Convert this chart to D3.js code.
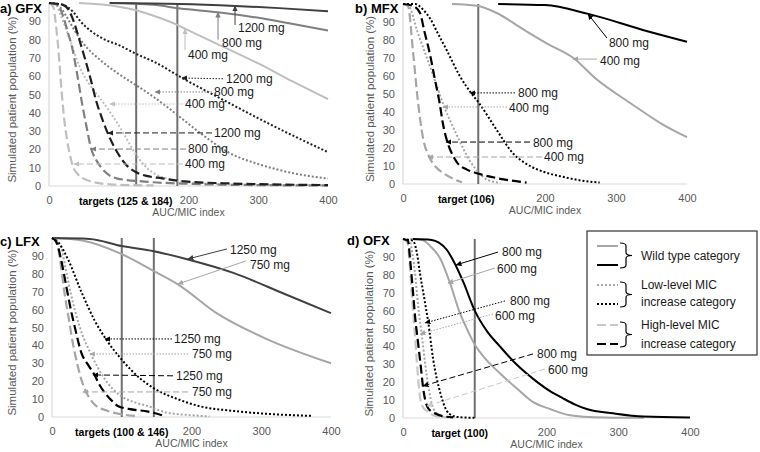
<!DOCTYPE html>
<html><head><meta charset="utf-8">
<script src="https://cdn.jsdelivr.net/npm/d3@7"></script>
<style>
html,body{margin:0;padding:0;background:#fff;}
svg{display:block;font-family:"Liberation Sans",Arial,sans-serif;}
</style></head><body>
<svg id="chart" width="760" height="452"></svg>
<script>
// ---------------- DATA ----------------
const xTicks = [0, 200, 300, 400];
const yTicks = [0, 10, 20, 30, 40, 50, 60, 70, 80, 90];
const panelTitles = ["a) GFX", "b) MFX", "c) LFX", "d) OFX"];
const targetValues = [[125, 184], [106], [100, 146], [100]];
const targetLabels = ["targets (125 & 184)", "target (106)", "targets (100 & 146)", "target (100)"];
const targetLabelAt = [110, 89, 100, 79];
const xTitle = "AUC/MIC index";
const yTitle = "Simulated patient population (%)";
const doses = [["400 mg", "800 mg", "1200 mg"], ["400 mg", "800 mg"], ["750 mg", "1250 mg"], ["600 mg", "800 mg"]];

// a) GFX
const gfxWT400 = [[43,100],[100,98],[125,96],[150,93],[184,88],[200,85],[250,76],[300,67],[350,57],[400,47.5]];
const gfxWT800 = [[87,100],[150,99],[188,97],[242,95],[307,91.5],[350,88.5],[400,85]];
const gfxWT1200 = [[87,100],[188,99.5],[267,98.4],[330,97.2],[400,95.5]];
const gfxLow400 = [[0,100],[10,99],[16,94],[30,80],[44,65],[59,55],[75,47],[90,39],[105,30],[120,20],[135,12],[150,7],[170,4],[200,2],[250,1],[300,0.6],[400,0.3]];
const gfxLow800 = [[0,100],[15,98],[26,92],[35,86],[49,78],[73,69],[97,62],[121,56],[145,50],[170,43],[190,37],[220,28],[259,18],[300,12],[350,7],[400,4]];
const gfxLow1200 = [[0,100],[20,99],[35,95],[45,90],[59,85],[80,80],[100,77],[126,72],[150,68],[191,59],[250,47],[300,37],[350,27.5],[400,18.5]];
const gfxHigh400 = [[0,100],[6,98],[10,88],[14,72],[18,52],[22,36],[26,25],[30,17],[34,11],[40,7],[50,4],[63,2.2],[92,0.8],[150,0.3]];
const gfxHigh800 = [[0,100],[12,99],[20,93],[27,84],[33,76],[40,62],[47,46],[54,32],[60,21],[68,14],[76,9.5],[97,4.2],[137,2.4],[200,1.2],[300,0.5],[400,0.3]];
const gfxHigh1200 = [[0,100],[20,99],[30,95],[38,87],[45,78],[52,69],[60,58],[68,46],[76,37],[84,29],[97,19],[112,11],[125,7.5],[140,5.5],[162,4.2],[195,2.5],[250,1.5],[300,1],[400,0.5]];

// b) MFX
const mfxWT400 = [[69,100],[104,99],[132,95],[169,86],[203,78],[240,70],[273,58],[320,45],[366,33],[400,26]];
const mfxWT800 = [[134,100],[200,99.4],[261,94.5],[343,85],[400,79]];
const mfxLow400 = [[0,100],[8,99],[20,85],[30,74],[42,61],[57,44],[76,27],[94,13],[110,5],[118,2.5],[137,0.6]];
const mfxLow800 = [[0,100],[17,100],[28,97],[38,92],[50,83],[62,74],[80,60],[97,50],[107,45],[132,30],[155,17],[179,10],[200,6.5],[225,4],[250,2],[277,0.8]];
const mfxHigh400 = [[0,100],[7,99],[14,74],[21,46],[28,26],[37,15],[45,10],[57,6],[70,3],[83,1]];
const mfxHigh800 = [[0,100],[14,99],[24,95],[30,85],[38,72],[45,58],[52,44],[56,34],[62,24],[70,16],[76,12],[90,8],[104,6],[132,3.3],[174,0.8]];

// c) LFX
const lfxWT750 = [[0,100],[45,98.5],[100,91],[146,81.5],[181,74],[236,58],[308,43.5],[400,30]];
const lfxWT1250 = [[0,100],[54,99.5],[100,95.5],[146,92.6],[195,88],[260,80.5],[332,69],[400,58]];
const lfxLow750 = [[0,100],[6,99],[13,95],[20,82],[27,69],[40,50],[56,35],[76,21],[99,11.7],[120,8],[138,6],[164,2.5],[200,1],[226,0.3]];
const lfxLow1250 = [[0,100],[10,97],[23,88],[42,70],[61,54],[80,42],[100,32],[128,21],[148,15.6],[180,10],[212,6],[260,3.4],[320,1.5],[374,0.6]];
const lfxHigh750 = [[0,100],[4,99],[8.6,95],[13,84],[18,69],[24,55],[30,41],[36,30],[42,21],[49,14],[61,7],[80,3.4],[100,1.5],[119,0.6]];
const lfxHigh1250 = [[0,100],[6,98],[13,88],[20,74],[27,60],[34,48],[42,36],[52,29],[61,23.5],[68,18],[76,13.4],[86,9],[95,6],[110,4.5],[138,3],[162,0.5]];

// d) OFX
const ofxWT600 = [[10,100],[27,99.5],[38,96],[52,89],[65,76],[79,59],[90,49],[100,41],[115,33],[135,25],[160,16],[181,9],[205,5],[233,1.5],[260,0.5],[293,0.2],[336,0.1]];
const ofxWT800 = [[14,100],[40,99.5],[50,98],[61,94],[70,88],[84,76],[100,60],[117,48.5],[135,40],[158,30],[181,22],[205,15],[223,11],[240,7.5],[256,5],[293,2.6],[335,0.8],[400,0.3]];
const ofxLow600 = [[0,100],[10,98],[13,92],[17,80],[21,63],[26,47],[33,24],[40,8],[46,3],[52,1],[70,0.2]];
const ofxLow800 = [[0,100],[14,99],[19,93],[24,80],[30,66],[35,54],[42,33],[52,14],[61,4],[68,1.5],[75,0.6],[100,0.1]];
const ofxHigh600 = [[0,100],[6,98],[9,88],[12,70],[16,50],[19,33],[22,18],[24,11],[28,6],[33,4],[40,2],[47,1],[60,0.4]];
const ofxHigh800 = [[0,100],[7,99],[10,88],[14,70],[17,56],[21,42],[25,28],[28,17],[31,10],[35,5.5],[45,2.5],[56,1],[70,0.4]];

// annotation anchors in data units: [text, style, dose index, tip, tail, label]
const gfxNotes = [
  ["1200 mg","solid",2,[266.7,98.4],[266.7,88],[271,86.5]],
  ["800 mg","solid",1,[242.3,95],[242.3,80],[248,78.3]],
  ["400 mg","solid",0,[195,85.8],[195,74.3],[199.3,71.6]],
  ["1200 mg","dotted",2,[190.7,59],[249.5,58.6],[253.8,58.6]],
  ["800 mg","dotted",1,[152,51.4],[233.7,51.4],[236.6,51.4]],
  ["400 mg","dotted",0,[87.5,44.8],[192,44.8],[195,44.8]],
  ["1200 mg","dashed",2,[84.6,29],[233.7,29],[236.6,29]],
  ["800 mg","dashed",1,[60.2,20.2],[196.4,20.2],[199.3,20.2]],
  ["400 mg","dashed",0,[35.8,12],[192,12],[195,12]]
];
const mfxNotes = [
  ["800 mg","solid",1,[260.6,94.4],[287.3,81.1],[290,78.3]],
  ["400 mg","solid",0,[239.4,69.4],[273.2,69.4],[277.5,68.6]],
  ["800 mg","dotted",1,[94.4,50.6],[157.7,50.6],[162,50.6]],
  ["400 mg","dotted",0,[56.3,42.8],[146.5,42.8],[149.3,42.5]],
  ["800 mg","dashed",1,[60.6,23.3],[178.9,23.3],[183,23]],
  ["400 mg","dashed",0,[35.2,15],[195.8,15],[198.6,15]]
];
const lfxNotes = [
  ["1250 mg","solid",1,[195,88.3],[250.9,93.9],[255.2,93.3]],
  ["750 mg","solid",0,[180.6,74.3],[278.1,87.2],[283.9,84.9]],
  ["1250 mg","dotted",1,[76,43.6],[172,43.6],[175,43.6]],
  ["750 mg","dotted",0,[54.5,35.2],[195,35.2],[200.7,35.2]],
  ["1250 mg","dashed",1,[58.8,23.5],[173.5,23],[177.8,23]],
  ["750 mg","dashed",0,[44.4,14],[195,14],[200.7,14]]
];
const ofxNotes = [
  ["800 mg","solid",1,[73.9,85.5],[132.4,92.7],[138,92.7]],
  ["600 mg","solid",0,[62.7,75.4],[128.2,83.8],[131,83.2]],
  ["800 mg","dotted",1,[30.7,53.1],[142.2,65.4],[149.1,65.4]],
  ["600 mg","dotted",0,[23.7,46.9],[125.4,58.1],[128.2,57]],
  ["800 mg","dashed",1,[27.9,17.9],[181.2,35.8],[186.8,35.8]],
  ["600 mg","dashed",0,[33.4,6.7],[197.9,27.4],[202.1,26.8]]
];

const legendLabels = [["Wild type category"], ["Low-level MIC", "increase category"], ["High-level MIC", "increase category"]];
const legendStyles = ["solid", "dotted", "dashed"];

// ---------------- STYLE / LAYOUT ----------------
const FONT = "Liberation Sans, Arial, sans-serif";
const styleDefs = {
  solid: {width: 2, dash: null, noteDash: null},
  dotted: {width: 2, dash: "2,2", noteDash: "1.5,1.5"},
  dashed: {width: 2.2, dash: "9,4", noteDash: "6,3"}
};
const panelColors = [
  {solid:["#bfbfbf","#7f7f7f","#404040"], dotted:["#bfbfbf","#7f7f7f","#1f1f1f"], dashed:["#bfbfbf","#7f7f7f","#1f1f1f"]},
  {solid:["#a6a6a6","#000000"], dotted:["#a6a6a6","#000000"], dashed:["#a6a6a6","#000000"]},
  {solid:["#a6a6a6","#404040"], dotted:["#a6a6a6","#000000"], dashed:["#a6a6a6","#000000"]},
  {solid:["#a6a6a6","#000000"], dotted:["#a6a6a6","#000000"], dashed:["#c8c8c8","#000000"]}
];
const panelSeries = [
  {solid:[gfxWT400,gfxWT800,gfxWT1200], dotted:[gfxLow400,gfxLow800,gfxLow1200], dashed:[gfxHigh400,gfxHigh800,gfxHigh1200]},
  {solid:[mfxWT400,mfxWT800], dotted:[mfxLow400,mfxLow800], dashed:[mfxHigh400,mfxHigh800]},
  {solid:[lfxWT750,lfxWT1250], dotted:[lfxLow750,lfxLow1250], dashed:[lfxHigh750,lfxHigh1250]},
  {solid:[ofxWT600,ofxWT800], dotted:[ofxLow600,ofxLow800], dashed:[ofxHigh600,ofxHigh800]}
];
const panelNotes = [gfxNotes, mfxNotes, lfxNotes, ofxNotes];
const layout = [
  {left:49, right:328, top:3, bottom:186, titleX:0, titleY:8, yTitleX:12},
  {left:403, right:687, top:4, bottom:184, titleX:355, titleY:8, yTitleX:370},
  {left:52, right:331, top:238, bottom:417, titleX:0, titleY:241, yTitleX:12},
  {left:403, right:690, top:239, bottom:418, titleX:347, titleY:240, yTitleX:369}
];

const svg = d3.select("#chart");
const defs = svg.append("defs");
function marker(color) {
  const id = "arr" + color.replace("#", "");
  if (defs.select("#" + id).empty()) {
    defs.append("marker").attr("id", id).attr("viewBox", "0 0 10 10")
      .attr("refX", 9).attr("refY", 5).attr("markerWidth", 6).attr("markerHeight", 6)
      .attr("markerUnits", "userSpaceOnUse").attr("orient", "auto")
      .append("path").attr("d", "M0,0.5 L10,5 L0,9.5 Z").attr("fill", color);
  }
  return "url(#" + id + ")";
}

panelTitles.forEach((title, i) => {
  const L = layout[i];
  const x = d3.scaleLinear().domain([0, 400]).range([L.left, L.right]);
  const y = d3.scaleLinear().domain([0, 100]).range([L.bottom, L.top]);
  const g = svg.append("g");

  g.append("line").attr("x1", x(0)).attr("x2", x(400)).attr("y1", y(0)).attr("y2", y(0))
    .attr("stroke", "#d9d9d9").attr("stroke-width", 1.2);
  g.append("line").attr("x1", x(0)).attr("x2", x(0)).attr("y1", y(0)).attr("y2", y(100))
    .attr("stroke", "#d9d9d9").attr("stroke-width", 1.2);

  const ya = g.append("g").attr("transform", `translate(${x(0)},0)`)
    .call(d3.axisLeft(y).tickValues(yTicks).tickSize(0).tickPadding(8));
  ya.select(".domain").remove();
  ya.attr("font-family", FONT).attr("font-size", 11);
  ya.selectAll("text").attr("fill", "#595959");

  const xa = g.append("g").attr("transform", `translate(0,${y(0)})`)
    .call(d3.axisBottom(x).tickValues(xTicks).tickSize(0).tickPadding(10));
  xa.select(".domain").remove();
  xa.attr("font-family", FONT).attr("font-size", 11);
  xa.selectAll("text").attr("fill", "#595959");

  g.append("text").attr("x", x(targetLabelAt[i])).attr("y", y(0) + 15.5).attr("dy", "0.35em")
    .attr("text-anchor", "middle").attr("font-weight", "bold").attr("font-size", 10.5)
    .attr("fill", "#000").text(targetLabels[i]);
  g.append("text").attr("x", x(200)).attr("y", y(0) + 26).attr("dy", "0.35em")
    .attr("text-anchor", "middle").attr("font-size", 10.5).attr("fill", "#595959").text(xTitle);
  g.append("text").attr("transform", `translate(${L.yTitleX},${(y(0) + y(100)) / 2 + 5}) rotate(-90)`)
    .attr("text-anchor", "middle").attr("dy", "0.35em").attr("font-size", 11.5)
    .attr("fill", "#595959").text(yTitle);
  g.append("text").attr("x", L.titleX).attr("y", L.titleY).attr("dy", "0.35em")
    .attr("font-weight", "bold").attr("font-size", 13).attr("fill", "#000").text(title);

  targetValues[i].forEach(t => {
    g.append("line").attr("x1", x(t)).attr("x2", x(t)).attr("y1", y(0)).attr("y2", y(100))
      .attr("stroke", "#6f6f6f").attr("stroke-width", 2);
  });

  const line = d3.line().x(d => x(d[0])).y(d => y(d[1])).curve(d3.curveMonotoneX);
  ["solid", "dotted", "dashed"].forEach(st => {
    panelSeries[i][st].forEach((data, k) => {
      g.append("path").datum(data).attr("d", line).attr("fill", "none")
        .attr("stroke", panelColors[i][st][k]).attr("stroke-width", styleDefs[st].width)
        .attr("stroke-dasharray", styleDefs[st].dash);
    });
  });

  panelNotes[i].forEach(n => {
    const [text, st, k, tip, tail, lab] = n;
    const col = panelColors[i][st][k];
    g.append("line").attr("x1", x(tail[0])).attr("y1", y(tail[1]))
      .attr("x2", x(tip[0])).attr("y2", y(tip[1]))
      .attr("stroke", col).attr("stroke-width", 1)
      .attr("stroke-dasharray", styleDefs[st].noteDash)
      .attr("marker-end", marker(col));
    g.append("text").attr("x", x(lab[0])).attr("y", y(lab[1])).attr("dy", "0.35em")
      .attr("font-size", 12).attr("fill", "#1a1a1a").text(text);
  });
});

// ---------------- LEGEND ----------------
const LG = {x: 587, y: 231, w: 170, h: 124, lineX1: 597, lineX2: 618, braceX: 620, textX: 641,
  rows: [[246, 265], [285, 304], [325, 344]], textRows: [[256], [285, 302], [325, 344]]};
const lg = svg.append("g");
lg.append("rect").attr("x", LG.x).attr("y", LG.y).attr("width", LG.w).attr("height", LG.h)
  .attr("fill", "#fff").attr("stroke", "#404040").attr("stroke-width", 1.3);
const legendColors = [["#a6a6a6", "#000"], ["#a6a6a6", "#000"], ["#c8c8c8", "#000"]];
legendStyles.forEach((st, gi) => {
  const [y1, y2] = LG.rows[gi];
  [y1, y2].forEach((yy, k) => {
    lg.append("line").attr("x1", LG.lineX1).attr("x2", LG.lineX2).attr("y1", yy).attr("y2", yy)
      .attr("stroke", legendColors[gi][k]).attr("stroke-width", styleDefs[st].width)
      .attr("stroke-dasharray", styleDefs[st].dash);
  });
  const top = y1 - 3, bot = y2 + 3, mid = (top + bot) / 2, bx = LG.braceX, w = 12;
  const r = 3;
  const p = `M${bx},${top} Q${bx + w / 2},${top} ${bx + w / 2},${top + r} L${bx + w / 2},${mid - r} Q${bx + w / 2},${mid} ${bx + w},${mid} Q${bx + w / 2},${mid} ${bx + w / 2},${mid + r} L${bx + w / 2},${bot - r} Q${bx + w / 2},${bot} ${bx},${bot}`;
  lg.append("path").attr("d", p).attr("fill", "none").attr("stroke", "#000").attr("stroke-width", 1.2);
  legendLabels[gi].forEach((t, ti) => {
    lg.append("text").attr("x", LG.textX).attr("y", LG.textRows[gi][ti]).attr("dy", "0.35em")
      .attr("font-size", 12).attr("fill", "#1a1a1a").text(t);
  });
});
</script>
</body></html>
